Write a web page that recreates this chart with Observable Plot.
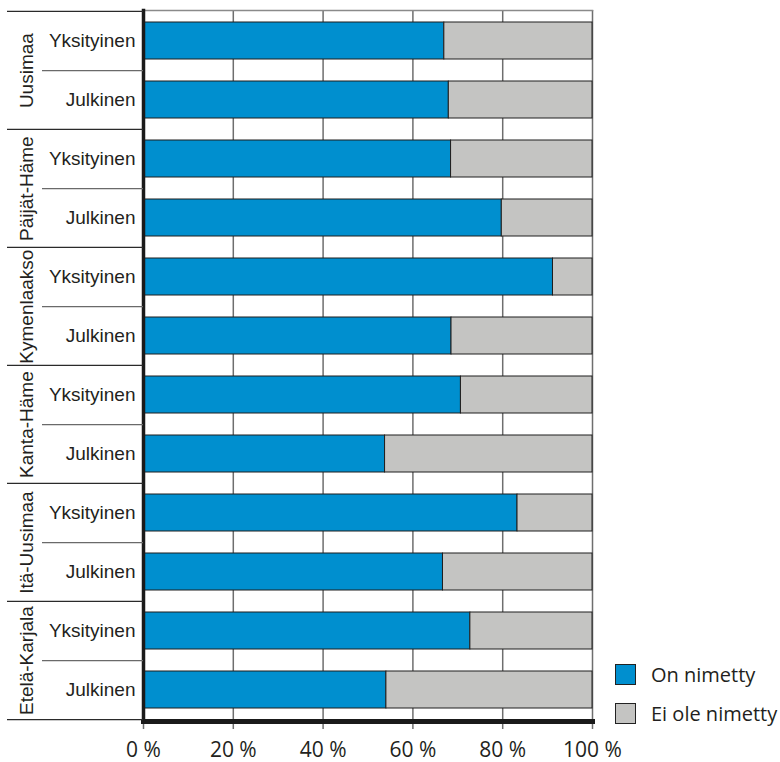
<!DOCTYPE html>
<html lang="fi">
<head>
<meta charset="utf-8">
<script src="https://cdn.jsdelivr.net/npm/d3@7"></script>
<script src="https://cdn.jsdelivr.net/npm/@observablehq/plot@0.6"></script>
<style>
  html, body { margin: 0; padding: 0; background: #fff; }
  #chart { position: relative; width: 780px; height: 762px; }
  #legend {
    position: absolute; left: 615px; top: 664px;
    font-family: "Open Sans", sans-serif; font-size: 20px; color: #231f20;
  }
  .item { display: flex; align-items: center; height: 21px; margin-bottom: 18px; }
  .swatch { width: 21px; height: 21px; box-sizing: border-box; border: 1.5px solid #222; }
  .item span { margin-left: 15px; line-height: 21px; }
</style>
</head>
<body>
<div id="chart"><div id="legend"></div></div>
<script>
// Maakunnat ja sektorit (ylhäältä alas)
const regions = ["Uusimaa", "Päijät-Häme", "Kymenlaakso", "Kanta-Häme", "Itä-Uusimaa", "Etelä-Karjala"];
const sectors = ["Yksityinen", "Julkinen"];

// Osuudet (%) rivijärjestyksessä: Uusimaa/Yksityinen, Uusimaa/Julkinen, ...
const onNimetty     = [67.0, 68.0, 68.5, 79.8, 91.2, 68.6, 70.7, 53.8, 83.3, 66.7, 72.8, 54.1];
const eiOleNimetty  = [33.0, 32.0, 31.5, 20.2,  8.8, 31.4, 29.3, 46.2, 16.7, 33.3, 27.2, 45.9];

const statuses = ["On nimetty", "Ei ole nimetty"];
const statusColors = ["#008fcf", "#c4c4c2"];
const xTicks = [0, 20, 40, 60, 80, 100];

// Rivien avaimet: "maakunta|sektori"
const keys = regions.flatMap(r => sectors.map(s => `${r}|${s}`));
const records = keys.flatMap((k, i) => [
  {key: k, status: statuses[0], value: onNimetty[i]},
  {key: k, status: statuses[1], value: eiOleNimetty[i]}
]);
const groupTops = regions.map(r => `${r}|${sectors[0]}`);
const lastKey = keys[keys.length - 1];

const W = 780, H = 762, mT = 10, mB = 41, mL = 143, mR = 188;
const step = (H - mT - mB) / keys.length;
const pct = d => `${d} %`;

const plot = Plot.plot({
  width: W, height: H,
  marginTop: mT, marginBottom: mB, marginLeft: mL, marginRight: mR,
  style: {fontFamily: "'Liberation Sans', Arial, sans-serif", color: "#231f20", background: "#fff", overflow: "visible"},
  x: {domain: [0, 100], ticks: xTicks, tickFormat: pct},
  y: {domain: keys, paddingInner: 0.37, paddingOuter: 0.185},
  color: {domain: statuses, range: statusColors},
  marks: [
    Plot.gridX(xTicks, {stroke: "#6e6e6e", strokeOpacity: 1, strokeWidth: 1.5}),
    Plot.frame({anchor: "top", stroke: "#8a8a8a", strokeWidth: 1.5}),
    Plot.barX(records, {x: "value", y: "key", fill: "status", stroke: "#1e1e1e", strokeWidth: 1}),
    Plot.axisX(xTicks, {tickSize: 8, tickPadding: 13, tickFormat: pct, stroke: "#6e6e6e", strokeWidth: 1.5,
      fontSize: 21, fontFamily: "'Open Sans', sans-serif", label: null}),
    Plot.frame({anchor: "bottom", stroke: "#1a1a1a", strokeWidth: 5}),
    Plot.frame({anchor: "left", stroke: "#1a1a1a", strokeWidth: 3.5}),
    // sektorien nimet
    Plot.axisY({tickSize: 0, tickPadding: 8, fontSize: 19, tickFormat: k => k.split("|")[1], label: null}),
    // maakuntien erotinviivat
    Plot.axisY(groupTops, {tickSize: 136, text: null, label: null, dy: -step / 2, stroke: "#2a2a2a", strokeWidth: 1.3}),
    Plot.axisY([lastKey], {tickSize: 136, text: null, label: null, dy: step / 2, stroke: "#2a2a2a", strokeWidth: 1.3}),
    // sektorien erotinviivat
    Plot.axisY(groupTops, {tickSize: 101, text: null, label: null, dy: step / 2, stroke: "#6a6a6a", strokeWidth: 1.2}),
    // maakuntien nimet pystyyn
    Plot.text(regions, {
      y: r => `${r}|${sectors[0]}`, text: d => d,
      frameAnchor: "left", dx: -117, dy: step / 2, rotate: -90,
      textAnchor: "middle", lineAnchor: "middle",
      fontSize: 19, fontFamily: "'Liberation Sans', Arial, sans-serif"
    })
  ]
});

const chart = document.getElementById("chart");
chart.insertBefore(plot, chart.firstChild);

// selite
const color = plot.scale("color");
const legend = d3.select("#legend");
statuses.forEach((s, i) => {
  const item = legend.append("div").attr("class", "item");
  item.append("div").attr("class", "swatch").style("background", color.range[i]);
  item.append("span").text(s);
});
</script>
</body>
</html>
